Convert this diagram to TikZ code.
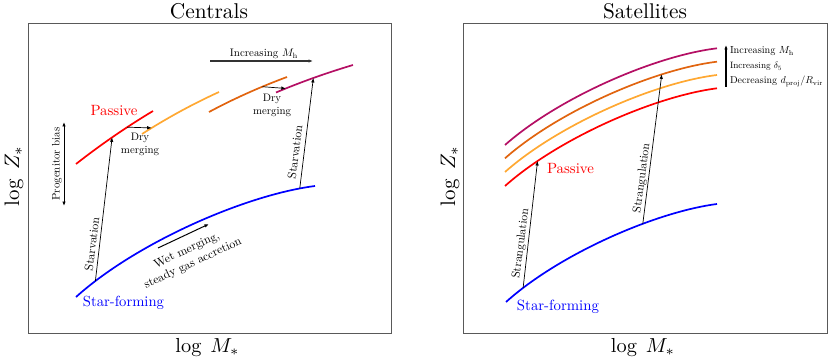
\documentclass[tikz,border=0pt]{standalone}
\usepackage{fontspec}
\setmainfont{Latin Modern Roman}
\usepackage{graphicx}
\usetikzlibrary{arrows.meta}
\definecolor{cRed}{RGB}{255,0,0}
\definecolor{cLight}{RGB}{255,168,50}
\definecolor{cDark}{RGB}{225,100,15}
\definecolor{cPurp}{RGB}{180,15,100}
\definecolor{cBlue}{RGB}{0,0,255}
\newcommand\fitw[2]{\resizebox{#1pt}{!}{#2}}
\newcommand\twol[2]{\begin{tabular}{@{}c@{}}#1\\#2\end{tabular}}
\begin{document}
\begin{tikzpicture}[x=1pt,y=-1pt,
  frame/.style={draw=black!65,line width=0.8pt},
  curve/.style={line width=1.7pt},
  arr/.style={-{Latex[length=4.5pt,width=3.5pt]},line width=0.7pt},
  darr/.style={{Latex[length=4.5pt,width=3.5pt]}-{Latex[length=4.5pt,width=3.5pt]},line width=0.9pt},
  lab/.style={inner sep=0pt,outer sep=0pt},
  bl/.style={lab,anchor=base},
  sml/.style={lab,anchor=base west}
]
\useasboundingbox (0,0) rectangle (831,361);
% frames
\draw[frame] (28,23) rectangle (391,333);
\draw[frame] (463,23) rectangle (827,333);
% titles and axis labels
\node[bl] (tC) at (209,19) {\fitw{78}{Centrals}};
\node[bl] (tS) at (645,19) {\fitw{84}{Satellites}};
\node[bl] (xL) at (207.5,352) {\fitw{64}{$\log\;M_*$}};
\node[bl] (xR) at (643,352) {\fitw{64}{$\log\;M_*$}};
\node[lab,rotate=90] (yL) at (14,176) {\fitw{60}{$\log\;Z_*$}};
\node[lab,rotate=90] (yR) at (450,176) {\fitw{60}{$\log\;Z_*$}};

% ---------- Centrals ----------
\draw[curve,cBlue] (76,297) .. controls (136,243) and (245,195) .. (315,186)
  coordinate[pos=0.1] (LsfA) coordinate[pos=0.93] (LsfB);
\draw[curve,cRed] (76,164) .. controls (100.6,144.7) and (126.2,127.1) .. (153,111)
  coordinate[pos=0.48] (LpR1) coordinate[pos=0.675] (LpR2);
\draw[curve,cLight] (142,134) .. controls (166.7,118.2) and (192.3,104.2) .. (219,92)
  coordinate[pos=0.13] (LpO1);
\draw[curve,cDark] (209,112) .. controls (234.2,98.5) and (260.2,86.9) .. (287,77)
  coordinate[pos=0.69] (LpD1);
\draw[curve,cPurp] (276,92.5) .. controls (301.2,81.9) and (326.8,72.8) .. (353,65)
  coordinate[pos=0.13] (LpP1) coordinate[pos=0.49] (LpP2);

\draw[arr] (LsfA) -- (LpR1);
\draw[arr] (LsfB) -- (LpP2);
\draw[arr] (LpR2) -- (LpO1);
\draw[arr] (LpD1) -- (LpP1);

\coordinate (LmhA) at (210,61);
\coordinate (LmhB) at (313,61);
\draw[arr,line width=1.4pt,black!80] (LmhA) -- (LmhB);
\node[bl] (LmhT) at (264,57) {\fitw{68}{Increasing $M_\mathrm{h}$}};

\coordinate (pbA) at (64,122);
\coordinate (pbB) at (64,206);
\draw[darr] (pbA) -- (pbB);
\node[lab,rotate=90] (pbT) at (57,164) {\fitw{73}{Progenitor bias}};

\coordinate (wmA) at (158,248);
\coordinate (wmB) at (209,224);
\draw[arr,line width=1pt] (wmA) -- (wmB);
\node[lab,rotate=25] (wmT) at (190,257) {\fitw{106}{\twol{Wet merging,}{steady gas accretion}}};

\node[lab] (dm1) at (140,144) {\fitw{38}{\twol{Dry}{merging}}};
\node[lab] (dm2) at (272,105) {\fitw{38}{\twol{Dry}{merging}}};
\node[lab,rotate=83] (sv1) at (92,244) {\fitw{54}{Starvation}};
\node[lab,rotate=82.6] (sv2) at (295,152) {\fitw{54}{Starvation}};
\node[bl,text=cRed] (LpT) at (114,115) {\fitw{47}{Passive}};
\node[bl,text=cBlue] (LsT) at (123.5,306) {\fitw{81}{Star-forming}};

% ---------- Satellites ----------
\draw[curve,cBlue] (506,302) .. controls (559,254.3) and (655.2,212) .. (717,204)
  coordinate[pos=0.1] (RsfA) coordinate[pos=0.65] (RsfB);
\draw[curve,cPurp] (505,145) .. controls (558.4,97.8) and (654.8,55.8) .. (717,48.3);
\draw[curve,cDark] (505,158.3) .. controls (558.4,111.1) and (654.8,69.2) .. (717,61.7)
  coordinate[pos=0.735] (RpD);
\draw[curve,cLight] (505,172) .. controls (558.4,124.7) and (654.8,82.6) .. (717,75);
\draw[curve,cRed] (505,186) .. controls (558.4,138.4) and (654.8,96.2) .. (717,88.3)
  coordinate[pos=0.18] (RpR);

\draw[arr] (RsfA) -- (RpR);
\draw[arr] (RsfB) -- (RpD);
\node[lab,rotate=82.7] (sg1) at (521,243.5) {\fitw{70}{Strangulation}};
\node[lab,rotate=82.5] (sg2) at (642,178) {\fitw{70}{Strangulation}};

\coordinate (RvA) at (726,87);
\coordinate (RvB) at (726,45);
\draw[arr,line width=1.2pt] (RvA) -- (RvB);
\node[sml] (rl1) at (730,54) {\fitw{64}{Increasing $M_\mathrm{h}$}};
\node[sml] (rl2) at (730,69) {\fitw{52}{Increasing $\delta_5$}};
\node[sml] (rl3) at (730,84) {\fitw{93}{Decreasing $d_\mathrm{proj}/R_\mathrm{vir}$}};

\node[bl,text=cRed] (RpT) at (570.5,173) {\fitw{47}{Passive}};
\node[bl,text=cBlue] (RsT) at (558,310) {\fitw{82}{Star-forming}};
\end{tikzpicture}
\end{document}
